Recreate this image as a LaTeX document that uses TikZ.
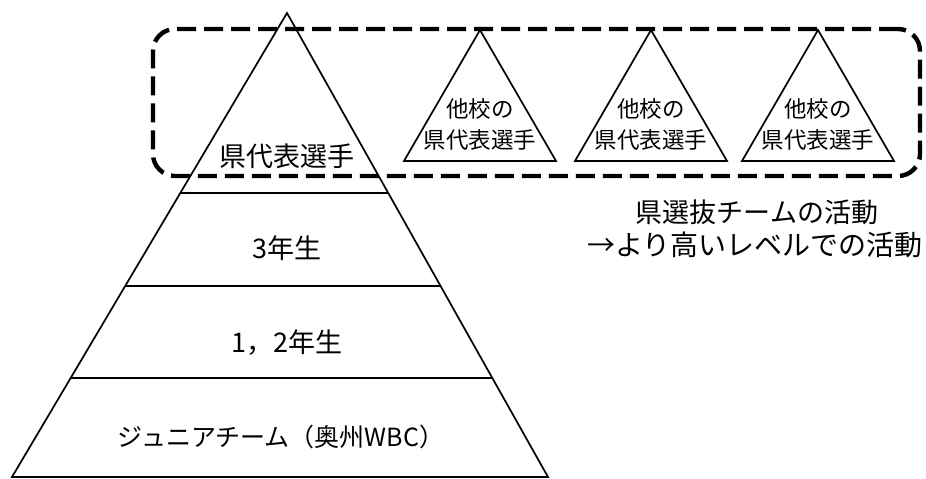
\documentclass[tikz,border=0pt]{standalone}
\usepackage{fontspec}
\setmainfont{Noto Sans CJK JP}
\usetikzlibrary{calc}
\usetikzlibrary{fit}

\begin{document}
\begin{tikzpicture}[
            x = 1pt, y = -1pt, % picture is laid out in pixel units
            line join = miter,
            semithick
        ]

        \tikzstyle{edge}=[line width = 1.7pt]
        \tikzstyle{big label}=[font = \fontsize{27}{30}\selectfont, inner sep = 0pt]
        \tikzstyle{small label}=[font = \fontsize{22.5}{31}\selectfont, align = center, inner sep = 0pt]
        \tikzstyle{team box}=[draw, line width = 4.4pt, rounded corners = 22pt,
            dash pattern = on 19pt off 8pt, inner sep = 0pt]

        \useasboundingbox (0,0) rectangle (926,479);

	% MAIN PYRAMID
        \coordinate (top) at (287,13);
        \coordinate (bl) at (12,477);
        \coordinate (br) at (548,477);
        \draw[edge] (bl) -- (top) -- (br) -- cycle;

        \foreach \t/\n in {0.388/a, 0.588/b, 0.787/c}{
            \coordinate (l\n) at ($(top)!\t!(bl)$);
            \coordinate (r\n) at ($(top)!\t!(br)$);
            \draw[edge] (l\n) -- (r\n);
        }

        \node[big label] (rep) at (287,156) {県代表選手};
        \node[big label] (third) at (287,248) {3年生};
        \node[big label] (first) at (287,343) {1，2年生};
        \node[big label, font = \fontsize{25}{30}\selectfont] (junior) at (281,437) {ジュニアチーム（奥州WBC）};

	% OTHER SCHOOLS
        \foreach \x/\n in {480/1, 651/2, 818/3}{
            \coordinate (st\n) at (\x,30);
            \coordinate (sl\n) at (\x-76,161);
            \coordinate (sr\n) at (\x+76,161);
            \draw[edge] (sl\n) -- (st\n) -- (sr\n) -- cycle;
            \node[small label] (other\n) at (\x,124) {他校の\\県代表選手};
        }

	% PREFECTURE TEAM
        \coordinate (bx1) at (153,29);
        \coordinate (bx2) at (920,176);
        \node[team box, fit = (bx1) (bx2)] (team) {};

        \node[big label] (select) at (757,212) {県選抜チームの活動};
        \node[big label, font = \fontsize{28}{30}\selectfont] (higher) at (755,245) {→より高いレベルでの活動};

\end{tikzpicture}
\end{document}
